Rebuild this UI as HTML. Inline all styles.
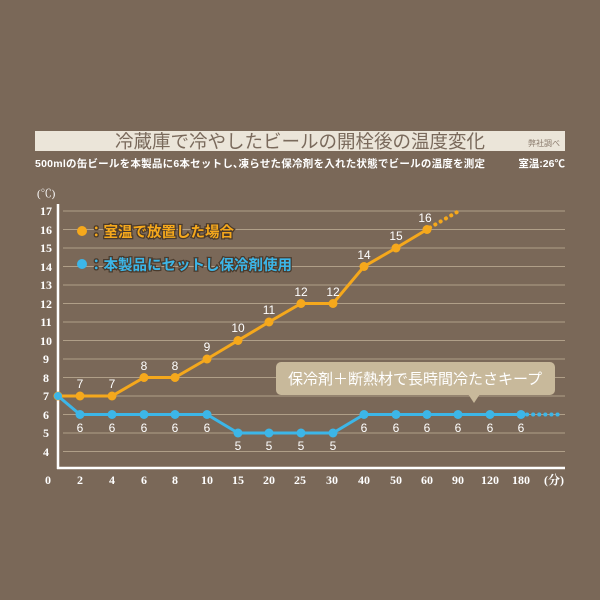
<!DOCTYPE html>
<html><head><meta charset="utf-8"><style>
html,body{margin:0;padding:0;background:#7a6858;}
svg{display:block;}
.t{font-family:"Liberation Sans","Noto Sans CJK JP",sans-serif;}
.s{font-family:"Liberation Serif","Noto Serif CJK SC",serif;}
</style></head><body>
<svg width="600" height="600" viewBox="0 0 600 600" xmlns="http://www.w3.org/2000/svg">
<rect width="600" height="600" fill="#7a6858"/>
<rect x="35" y="131" width="530" height="20" fill="#ebe5d9"/>
<text x="300" y="148" class="t" font-size="18.5" fill="#7a6a5c" text-anchor="middle">冷蔵庫で冷やしたビールの開栓後の温度変化</text>
<text x="528" y="146" class="t" font-size="8" fill="#8a7a6c">弊社調べ</text>
<text x="35" y="167" class="t" font-size="10.5" font-weight="bold" fill="#fff" textLength="450">500mlの缶ビールを本製品に6本セットし､凍らせた保冷剤を入れた状態でビールの温度を測定</text>
<text x="565" y="167" class="t" font-size="10.5" font-weight="bold" fill="#fff" text-anchor="end">室温:26℃</text>
<text x="37" y="197" class="s" font-size="11" fill="#fff">(℃)</text>
<g stroke="#b09f88" stroke-width="1">
<line x1="63" y1="211" x2="565" y2="211"/><line x1="63" y1="229.5" x2="565" y2="229.5"/><line x1="63" y1="248" x2="565" y2="248"/><line x1="63" y1="266.5" x2="565" y2="266.5"/><line x1="63" y1="285" x2="565" y2="285"/><line x1="63" y1="303.5" x2="565" y2="303.5"/><line x1="63" y1="322" x2="565" y2="322"/><line x1="63" y1="340.5" x2="565" y2="340.5"/><line x1="63" y1="359" x2="565" y2="359"/><line x1="63" y1="377.5" x2="565" y2="377.5"/><line x1="63" y1="396" x2="565" y2="396"/><line x1="63" y1="414.5" x2="565" y2="414.5"/><line x1="63" y1="433" x2="565" y2="433"/><line x1="63" y1="451.5" x2="565" y2="451.5"/>
</g>
<g class="s" font-size="12" font-weight="bold" fill="#fff" text-anchor="middle">
<text x="46" y="215">17</text><text x="46" y="234">16</text><text x="46" y="252">15</text><text x="46" y="271">14</text><text x="46" y="289">13</text><text x="46" y="308">12</text><text x="46" y="326">11</text><text x="46" y="345">10</text><text x="46" y="363">9</text><text x="46" y="382">8</text><text x="46" y="400">7</text><text x="46" y="419">6</text><text x="46" y="437">5</text><text x="46" y="456">4</text>
<text x="48" y="484">0</text><text x="80" y="484">2</text><text x="112" y="484">4</text><text x="144" y="484">6</text><text x="175" y="484">8</text><text x="207" y="484">10</text><text x="238" y="484">15</text><text x="269" y="484">20</text><text x="300" y="484">25</text><text x="332" y="484">30</text><text x="364" y="484">40</text><text x="396" y="484">50</text><text x="427" y="484">60</text><text x="458" y="484">90</text><text x="490" y="484">120</text><text x="521" y="484">180</text><text x="554" y="484">(分)</text>
</g>
<line x1="58" y1="204" x2="58" y2="469" stroke="#fff" stroke-width="2.5"/>
<line x1="57" y1="468" x2="565" y2="468" stroke="#fff" stroke-width="2.5"/>
<rect x="276" y="362" width="279" height="33" rx="5" fill="#c8b99b"/>
<polygon points="468,394 480,394 474,403" fill="#c8b99b"/>
<text x="415" y="384" class="t" font-size="15" fill="#fff" text-anchor="middle">保冷剤＋断熱材で長時間冷たさキープ</text>
<polyline fill="none" stroke="#f5a81c" stroke-width="3" points="58,396 80,396 112,396 144,377.5 175,377.5 207,359 238,340.5 269,322 301,303.5 333,303.5 364,266.5 396,248 427,229.5"/>
<line x1="430" y1="227.5" x2="459" y2="211" stroke="#f5a81c" stroke-width="4" stroke-dasharray="0.1 6" stroke-linecap="round"/>
<g fill="#f5a81c"><circle cx="58" cy="396" r="4.5"/><circle cx="80" cy="396" r="4.5"/><circle cx="112" cy="396" r="4.5"/><circle cx="144" cy="377.5" r="4.5"/><circle cx="175" cy="377.5" r="4.5"/><circle cx="207" cy="359" r="4.5"/><circle cx="238" cy="340.5" r="4.5"/><circle cx="269" cy="322" r="4.5"/><circle cx="301" cy="303.5" r="4.5"/><circle cx="333" cy="303.5" r="4.5"/><circle cx="364" cy="266.5" r="4.5"/><circle cx="396" cy="248" r="4.5"/><circle cx="427" cy="229.5" r="4.5"/></g>
<g class="t" font-size="12" fill="#fff" text-anchor="middle">
<text x="80" y="388">7</text><text x="112" y="388">7</text><text x="144" y="370">8</text><text x="175" y="370">8</text><text x="207" y="351">9</text><text x="238" y="332">10</text><text x="269" y="314">11</text><text x="301" y="296">12</text><text x="333" y="296">12</text><text x="364" y="259">14</text><text x="396" y="240">15</text><text x="425" y="222">16</text>
</g>
<polyline fill="none" stroke="#3cb6e8" stroke-width="3" points="58,396 80,414.5 112,414.5 144,414.5 175,414.5 207,414.5 238,433 269,433 301,433 333,433 364,414.5 396,414.5 427,414.5 458,414.5 490,414.5 521,414.5"/>
<line x1="527" y1="414.5" x2="558" y2="414.5" stroke="#3cb6e8" stroke-width="4" stroke-dasharray="0.1 6" stroke-linecap="round"/>
<g fill="#3cb6e8"><circle cx="58" cy="396" r="4"/><circle cx="80" cy="414.5" r="4.5"/><circle cx="112" cy="414.5" r="4.5"/><circle cx="144" cy="414.5" r="4.5"/><circle cx="175" cy="414.5" r="4.5"/><circle cx="207" cy="414.5" r="4.5"/><circle cx="238" cy="433" r="4.5"/><circle cx="269" cy="433" r="4.5"/><circle cx="301" cy="433" r="4.5"/><circle cx="333" cy="433" r="4.5"/><circle cx="364" cy="414.5" r="4.5"/><circle cx="396" cy="414.5" r="4.5"/><circle cx="427" cy="414.5" r="4.5"/><circle cx="458" cy="414.5" r="4.5"/><circle cx="490" cy="414.5" r="4.5"/><circle cx="521" cy="414.5" r="4.5"/></g>
<g class="t" font-size="12" fill="#fff" text-anchor="middle">
<text x="80" y="432">6</text><text x="112" y="432">6</text><text x="144" y="432">6</text><text x="175" y="432">6</text><text x="207" y="432">6</text><text x="238" y="450">5</text><text x="269" y="450">5</text><text x="301" y="450">5</text><text x="333" y="450">5</text><text x="364" y="432">6</text><text x="396" y="432">6</text><text x="427" y="432">6</text><text x="458" y="432">6</text><text x="490" y="432">6</text><text x="521" y="432">6</text>
</g>
<circle cx="82" cy="231" r="5" fill="#f5a81c"/>
<text x="89" y="237" class="t" font-size="14.5" font-weight="bold" fill="#f5a81c" stroke="#4a3a2c" stroke-width="2.5" paint-order="stroke">：室温で放置した場合</text>
<circle cx="82" cy="264" r="5" fill="#3cb6e8"/>
<text x="89" y="270" class="t" font-size="14.5" font-weight="bold" fill="#3cb6e8" stroke="#4a3a2c" stroke-width="2.5" paint-order="stroke">：本製品にセットし保冷剤使用</text>
</svg>
</body></html>
